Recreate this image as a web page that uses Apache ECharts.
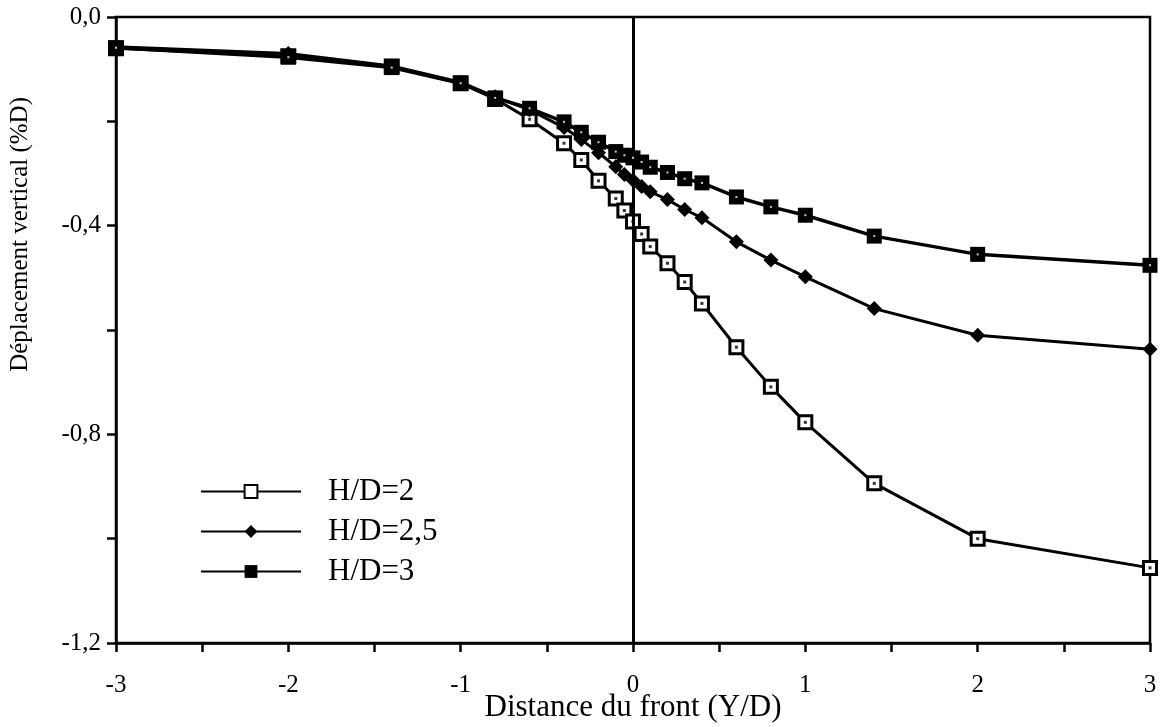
<!DOCTYPE html>
<html>
<head>
<meta charset="utf-8">
<script src="https://cdn.jsdelivr.net/npm/echarts@6/dist/echarts.min.js"></script>
<style>
html,body{margin:0;padding:0;background:#fff;}
#chart{width:1161px;height:727px;}
</style>
</head>
<body>
<div id="chart"></div>
<script>
// ---- data ----
const xValues = [-3, -2, -1.4, -1, -0.8, -0.6, -0.4, -0.3, -0.2, -0.1, -0.05, 0, 0.05, 0.1, 0.2, 0.3, 0.4, 0.6, 0.8, 1, 1.4, 2, 3];
const hd2   = [-0.060, -0.075, -0.095, -0.127, -0.157, -0.196, -0.242, -0.274, -0.314, -0.348, -0.371, -0.392, -0.416, -0.440, -0.472, -0.508, -0.549, -0.633, -0.709, -0.777, -0.894, -1.000, -1.056];
const hd25  = [-0.057, -0.070, -0.094, -0.125, -0.153, -0.178, -0.212, -0.235, -0.260, -0.287, -0.302, -0.313, -0.325, -0.335, -0.350, -0.369, -0.385, -0.431, -0.466, -0.498, -0.559, -0.610, -0.637];
const hd3   = [-0.059, -0.077, -0.097, -0.127, -0.155, -0.175, -0.201, -0.221, -0.240, -0.258, -0.265, -0.270, -0.278, -0.288, -0.298, -0.310, -0.318, -0.345, -0.364, -0.380, -0.420, -0.455, -0.476];
const seriesNames = ['H/D=2', 'H/D=2,5', 'H/D=3'];
const xLabelValues = [-3, -2, -1, 0, 1, 2, 3];
const xLabelTexts  = ['-3', '-2', '-1', '0', '1', '2', '3'];
const yLabelValues = [0, -0.4, -0.8, -1.2];
const yLabelTexts  = ['0,0', '-0,4', '-0,8', '-1,2'];
const xTitle = 'Distance du front (Y/D)';
const yTitle = 'Déplacement vertical (%D)';

const pairs = ys => xValues.map((x, i) => [x, ys[i]]);
const labelFor = (vals, texts) => v => {
  for (let i = 0; i < vals.length; i++) if (Math.abs(vals[i] - v) < 1e-6) return texts[i];
  return '';
};
const FONT = '"Liberation Serif", "DejaVu Serif", serif';

const chart = echarts.init(document.getElementById('chart'), null, {renderer: 'canvas'});
chart.setOption({
  animation: false,
  backgroundColor: '#fff',
  grid: {left: 116, right: 11, top: 17, bottom: 84, containLabel: false, outerBoundsMode: 'none',
         show: true, borderColor: '#000', borderWidth: 2.5, backgroundColor: 'transparent'},
  legend: {
    data: seriesNames,
    orient: 'vertical',
    left: 195, top: 471,
    itemWidth: 100, itemHeight: 16, itemGap: 9,
    textStyle: {fontFamily: FONT, fontSize: 31, color: '#000', padding: [0, 0, 0, 22]}
  },
  xAxis: {
    type: 'value', min: -3, max: 3, interval: 0.5,
    name: xTitle, nameLocation: 'middle', nameGap: 49, nameMoveOverlap: false,
    nameTextStyle: {fontFamily: FONT, fontSize: 31, color: '#000'},
    axisLine: {show: true, onZero: false, lineStyle: {color: '#000', width: 2.5}},
    axisTick: {show: true, inside: false, length: 9, lineStyle: {color: '#000', width: 2.5}},
    axisLabel: {formatter: labelFor(xLabelValues, xLabelTexts), fontFamily: FONT, fontSize: 25, color: '#000', margin: 30, showMinLabel: true, showMaxLabel: true},
    splitLine: {show: false}
  },
  yAxis: {
    type: 'value', min: -1.2, max: 0, interval: 0.2,
    axisLine: {show: true, onZero: false, lineStyle: {color: '#000', width: 2.5}},
    axisTick: {show: true, inside: false, length: 9, lineStyle: {color: '#000', width: 2.5}},
    axisLabel: {formatter: labelFor(yLabelValues, yLabelTexts), fontFamily: FONT, fontSize: 25, color: '#000', margin: 15, showMinLabel: true, showMaxLabel: true},
    splitLine: {show: false}
  },
  graphic: [{
    type: 'text', left: 8, top: 97, rotation: Math.PI / 2,
    style: {text: yTitle, fontFamily: FONT, fontSize: 25, fill: '#000'}
  }],
  series: [
    {
      name: 'H/D=2', type: 'line', data: pairs(hd2), z: 3,
      symbol: 'rect', symbolSize: 13, showAllSymbol: true,
      lineStyle: {color: '#000', width: 3},
      itemStyle: {color: '#fff', borderColor: '#000', borderWidth: 3},
      markLine: {
        silent: true, symbol: 'none', label: {show: false},
        lineStyle: {color: '#000', width: 3, type: 'solid'},
        data: [{xAxis: 0}]
      }
    },
    {
      name: 'H/D=2,5', type: 'line', data: pairs(hd25), z: 4,
      symbol: 'diamond', symbolSize: [15, 15], showAllSymbol: true,
      lineStyle: {color: '#000', width: 3},
      itemStyle: {color: '#000', borderColor: '#000', borderWidth: 0}
    },
    {
      name: 'H/D=3', type: 'line', data: pairs(hd3), z: 5,
      symbol: 'rect', symbolSize: 15, showAllSymbol: true,
      lineStyle: {color: '#000', width: 3.5},
      itemStyle: {color: '#000', borderColor: '#000', borderWidth: 0}
    },
    {
      name: 'dots2', type: 'scatter', data: pairs(hd2), z: 6, silent: true,
      symbol: 'rect', symbolSize: 3, itemStyle: {color: '#000'}
    },
    {
      name: 'dots3', type: 'scatter', data: pairs(hd3), z: 6, silent: true,
      symbol: 'rect', symbolSize: 2, itemStyle: {color: '#fff'}
    }
  ]
});
</script>
</body>
</html>
